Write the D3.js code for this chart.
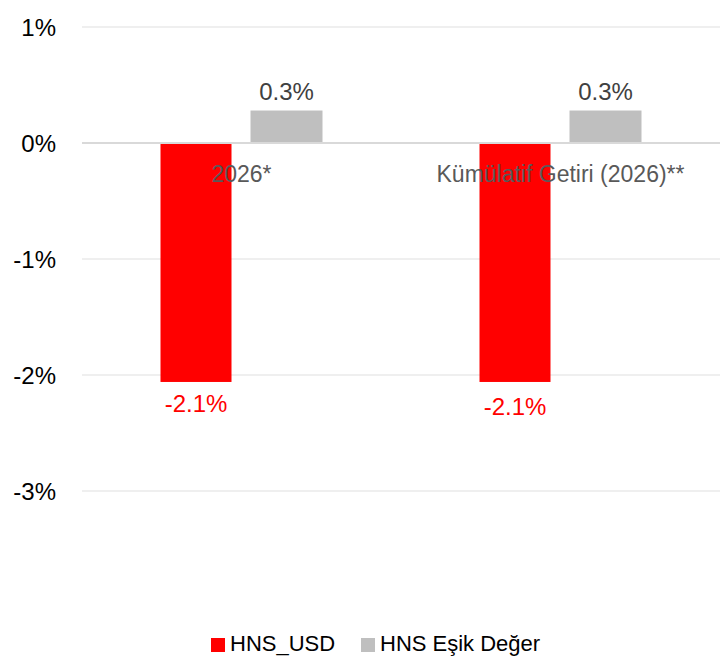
<!DOCTYPE html>
<html>
<head>
<meta charset="utf-8">
<script src="https://cdn.jsdelivr.net/npm/d3@7"></script>
<style>
  body { margin: 0; background: #fff; }
  svg { font-family: "Liberation Sans", Arial, sans-serif; }
</style>
</head>
<body>
<div class="chart"></div>
<script>
// data
var categories = ["2026*", "Kümülatif Getiri (2026)**"];
var seriesNames = ["HNS_USD", "HNS Eşik Değer"];
var hnsUsd = [-2.06, -2.06];
var esikDeger = [0.28, 0.28];
var yTicks = [1, 0, -1, -2, -3];
var colors = ["#ff0000", "#bfbfbf"];

var width = 728, height = 663;

var svg = d3.select(".chart")
  .append("svg")
  .attr("width", width)
  .attr("height", height);

var x = d3.scaleBand()
  .domain(categories)
  .range([82, 720]);

var y = d3.scaleLinear()
  .domain([-3, 1])
  .range([491, 27]);

// grid
svg.selectAll(".grid")
  .data(yTicks)
  .enter()
  .append("line")
  .attr("x1", 82)
  .attr("x2", 720)
  .attr("y1", function(d) { return y(d); })
  .attr("y2", function(d) { return y(d); })
  .attr("stroke", function(d) { return d === 0 ? "#d9d9d9" : "#efefef"; })
  .attr("stroke-width", 2);

// y labels
svg.selectAll(".ylab")
  .data(yTicks)
  .enter()
  .append("text")
  .attr("x", 56)
  .attr("y", function(d) { return y(d) + 9; })
  .attr("text-anchor", "end")
  .attr("font-size", "24px")
  .attr("fill", "#000")
  .text(function(d) { return d + "%"; });

var barW = 71;
var rows = categories.map(function(c, i) {
  return {cat: c, usd: hnsUsd[i], esik: esikDeger[i]};
});

var g = svg.selectAll(".grp")
  .data(rows)
  .enter()
  .append("g")
  .attr("transform", function(d) { return "translate(" + (x(d.cat) + x.bandwidth() / 2) + ",0)"; });

// red bars
g.append("rect")
  .attr("x", -81)
  .attr("width", barW)
  .attr("y", y(0) + 1)
  .attr("height", function(d) { return y(d.usd) - y(0) - 1; })
  .attr("fill", colors[0]);

// gray bars
g.append("rect")
  .attr("x", 9)
  .attr("width", barW + 1)
  .attr("y", function(d) { return y(d.esik); })
  .attr("height", function(d) { return y(0) - y(d.esik) - 1; })
  .attr("fill", colors[1]);

// category labels
g.append("text")
  .attr("y", 182)
  .attr("text-anchor", "middle")
  .attr("font-size", "23px")
  .attr("fill", "#595959")
  .text(function(d) { return d.cat; });

// value labels
g.append("text")
  .attr("x", 9 + (barW + 1) / 2)
  .attr("y", function(d) { return y(d.esik) - 11; })
  .attr("text-anchor", "middle")
  .attr("font-size", "24px")
  .attr("fill", "#404040")
  .text(function(d) { return d.esik.toFixed(1) + "%"; });

g.append("text")
  .attr("x", -81 + barW / 2)
  .attr("y", function(d, i) { return y(d.usd) + 30 + 3 * i; })
  .attr("text-anchor", "middle")
  .attr("font-size", "24px")
  .attr("fill", "#ff0000")
  .text(function(d) { return d.usd.toFixed(1) + "%"; });

// legend
var legend = svg.append("g").attr("transform", "translate(211,638)");
var lx = [0, 150];
seriesNames.forEach(function(name, i) {
  legend.append("rect")
    .attr("x", lx[i])
    .attr("y", 0)
    .attr("width", 14)
    .attr("height", 14)
    .attr("fill", colors[i]);
  legend.append("text")
    .attr("x", lx[i] + 19)
    .attr("y", 13)
    .attr("font-size", "22px")
    .attr("fill", "#000")
    .text(name);
});
</script>
</body>
</html>
